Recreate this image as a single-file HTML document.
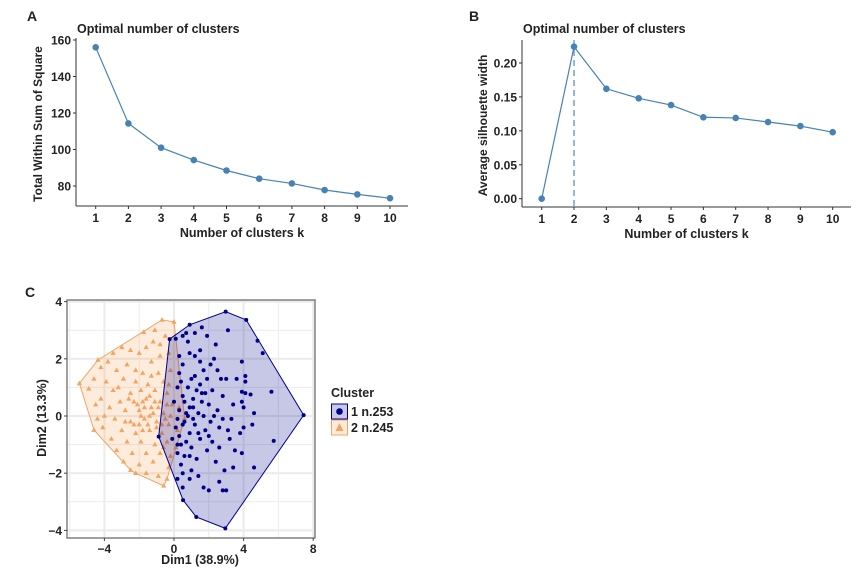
<!DOCTYPE html>
<html><head><meta charset="utf-8"><style>
body{margin:0;background:#fff}
svg text{font-family:"Liberation Sans",Arial,sans-serif;font-weight:bold;fill:#222}
</style></head><body>
<svg id="s" width="866" height="573" viewBox="0 0 866 573" xmlns="http://www.w3.org/2000/svg"></svg>
<script>
const ks=[1,2,3,4,5,6,7,8,9,10];
const wss=[156,114.3,101,94.2,88.5,84,81.4,77.8,75.4,73.3];
const wssTicks=[80,100,120,140,160];
const sil=[0,0.224,0.162,0.148,0.138,0.120,0.119,0.113,0.107,0.098];
const silTicks=[0,0.05,0.10,0.15,0.20];
const silTickLabels=["0.00","0.05","0.10","0.15","0.20"];
const optimalK=2;
const dimTicksX=[-4,0,4,8];
const dimTicksY=[-4,-2,0,2,4];
const cluster1=[[2.97,3.65],[4.15,3.36],[4.8,2.63],[5.1,2.2],[7.45,0.03],[5.73,-0.87],[2.95,-3.93],[1.28,-3.53],[0.52,-2.94],[-0.88,-0.72],[-0.25,2.69],[0.9,3.19],
[1.6,3.1],[3.1,3.0],[2.4,2.5],[0.7,2.9],[1.2,2.9],[0.1,2.7],[0.5,2.8],[0.8,2.6],[1.5,2.3],[1.2,2.1],[0.9,2.2],[0.3,2.1],[3.9,1.9],[1.5,1.9],[0.5,1.8],[2.1,1.8],[0.3,1.5],[1.2,1.4],[1.7,1.6],[2.5,1.6],[3.0,1.3],[4.1,1.2],[4.1,1.4],[2.7,1.3],[3.6,1.3],[1.9,1.3],[1.5,1.1],[1.0,1.3],[0.8,1.0],[0.2,1.0],[0.5,0.7],[1.3,0.9],[2.2,0.9],[1.8,0.8],[3.9,0.85],[4.1,0.8],[4.4,0.75],[5.6,0.85],[2.8,0.7],[1.1,0.6],[0.6,0.5],[0.9,0.3],[1.6,0.5],[2.0,0.4],[3.4,0.4],[3.9,0.5],[2.5,0.2],[4.0,0.3],[1.4,0.1],[0.3,0.2],[0.8,0.0],[1.7,0.0],[2.3,0.0],[2.8,-0.1],[3.3,-0.1],[4.6,0.1],[4.5,-0.3],[2.1,-0.2],[1.2,-0.3],[0.5,-0.3],[0.1,-0.4],[0.9,-0.6],[1.8,-0.5],[2.6,-0.4],[3.1,-0.5],[4.0,-0.4],[0.3,-0.7],[1.5,-0.8],[0.7,-0.9],[2.2,-0.9],[3.2,-0.8],[3.8,-0.6],[0.2,-1.0],[1.0,-1.1],[1.9,-1.2],[2.6,-1.1],[3.5,-1.2],[3.9,-1.3],[0.6,-1.4],[1.3,-1.5],[2.4,-1.6],[0.4,-1.7],[1.0,-1.9],[2.9,-1.9],[3.4,-1.8],[4.6,-1.8],[0.5,-2.0],[1.4,-2.1],[2.6,-2.3],[0.9,-2.2],[1.7,-2.5],[0.2,-2.2],[2.0,-2.6],[2.8,-2.6],[3.0,-2.6],[0.5,-2.5],[0.6,-0.2],[0.0,0.5],[0.2,-1.3],[-0.1,-0.8],[1.1,-0.1],[0.4,1.2],[2.3,2.0],[1.9,2.8],[0.7,0.1],[1.4,-0.6],[0.4,-1.0],[1.1,0.3],[0.2,-0.1],[2.0,-0.7],[1.6,0.8],[0.9,-1.4]];
const cluster2=[[-0.69,3.36],[0,3.29],[0.61,-0.08],[-0.59,-2.44],[-2.5,-1.89],[-4.6,-0.49],[-5.44,1.14],[-4.37,1.96],[-1.74,2.93],
[-1.2,2.6],[-0.5,2.8],[-1.1,3.0],[-3.0,2.4],[-3.5,2.2],[-2.5,2.3],[-3.8,1.9],[-4.2,1.7],[-2.0,2.2],[-0.8,2.1],[-1.3,1.9],[-0.3,2.2],[-2.7,1.8],[-3.3,1.6],[-1.8,1.5],[-0.9,1.5],[-0.2,1.6],[-4.6,1.3],[-3.9,1.2],[-2.9,1.3],[-2.2,1.2],[-1.5,1.1],[-0.6,1.2],[-4.9,0.95],[-3.5,0.9],[-2.5,0.8],[-1.9,0.9],[-1.1,0.9],[-0.4,0.8],[-4.2,0.6],[-3.1,0.5],[-2.3,0.5],[-1.6,0.6],[-0.8,0.5],[-0.1,0.4],[-3.7,0.3],[-2.8,0.2],[-2.0,0.2],[-1.3,0.3],[-0.6,0.1],[-4.4,-0.1],[-3.4,-0.1],[-2.5,-0.2],[-1.7,-0.1],[-1.0,-0.2],[-0.3,-0.3],[-4.1,-0.4],[-3.0,-0.5],[-2.2,-0.6],[-1.4,-0.5],[-0.7,-0.6],[-3.6,-0.8],[-2.7,-0.9],[-1.9,-0.9],[-1.1,-1.0],[-0.4,-0.9],[-3.3,-1.2],[-2.4,-1.3],[-1.6,-1.3],[-0.8,-1.3],[-2.9,-1.6],[-2.0,-1.7],[-1.2,-1.6],[-0.3,-1.8],[-1.6,-2.0],[-0.9,-2.1],[-0.4,-2.2],[-2.2,-2.0],[-1.9,0.0],[-1.5,-0.3],[-2.1,0.4],[-1.2,0.1],[-0.9,0.3],[-1.4,0.7],[-2.6,0.6],[-3.2,1.0],[-0.5,-0.1],[-0.2,0.0],[0.2,-0.5],[0.3,0.3],[-1.0,-0.4],[-1.7,0.3],[-2.3,-0.3],[-0.6,-1.1],[-1.3,1.4],[-4.0,0.0],[-4.5,0.4],[-2.8,-0.2],[-1.8,-0.5],[-0.3,1.1],[0.1,-1.1],[-0.2,-1.4],[-0.8,2.5],[-1.6,2.4],[-2.2,1.6],[-1.1,0.5],[-1.8,0.5],[-0.7,-0.3],[-1.4,0.0],[-2.0,-0.3],[-0.4,0.4]];

const NS="http://www.w3.org/2000/svg";
const svg=document.getElementById('s');
function el(tag,attrs,parent,txt){const e=document.createElementNS(NS,tag);for(const k in attrs)e.setAttribute(k,attrs[k]);if(txt!==undefined)e.textContent=txt;(parent||svg).appendChild(e);return e;}

function linePanel(o){
  const g=el('g',{});
  
  
  const sx=k=>o.x1+(k-1)*(o.x10-o.x1)/9;
  const sy=v=>o.yb+(v-o.v0)*(o.yt-o.yb)/(o.v1-o.v0);
  let t=el('text',{x:o.lx,y:21,'font-size':14},g,o.letter);
  
  t=el('text',{x:o.left+1,y:33,'font-size':12.5},g,'Optimal number of clusters');
  
  el('line',{x1:o.left,y1:o.top,x2:o.left,y2:o.bottom,stroke:'#333','stroke-width':1},g);
  el('line',{x1:o.left,y1:o.bottom,x2:o.right,y2:o.bottom,stroke:'#333','stroke-width':1},g);
  o.ticks.forEach((v,i)=>{const y=sy(v);
    el('line',{x1:o.left-3,y1:y,x2:o.left,y2:y,stroke:'#333'},g);
    const tt=el('text',{x:o.left-5,y:y+4.5,'font-size':12,'text-anchor':'end'},g,o.tickLabels[i]);
    });
  ks.forEach(k=>{const x=sx(k);
    el('line',{x1:x,y1:o.bottom,x2:x,y2:o.bottom+3,stroke:'#333'},g);
    const tt=el('text',{x:x,y:o.bottom+16,'font-size':12,'text-anchor':'middle'},g,String(k));
    });
  if(o.vline){const x=sx(o.vline);
    const l=el('line',{x1:x,y1:o.top,x2:x,y2:o.bottom,stroke:'#5b93c6','stroke-width':1.3,'stroke-dasharray':'6,4'},g);
    }
  const p=el('polyline',{points:ks.map((k,i)=>sx(k)+','+sy(o.vals[i])).join(' '),fill:'none',stroke:'#4682b4','stroke-width':1.2},g);
  
  ks.forEach((k,i)=>{const c=el('circle',{cx:sx(k),cy:sy(o.vals[i]),r:3.3,fill:'#4682b4'},g);
    });
  t=el('text',{x:(o.left+o.right)/2,y:o.bottom+31,'font-size':12.5,'text-anchor':'middle'},g,'Number of clusters k');
  
  t=el('text',{x:0,y:0,'font-size':12,'text-anchor':'middle',transform:`translate(${o.ytx},${(o.top+o.bottom)/2+2}) rotate(-90)`},g,o.ytitle);
  
}
linePanel({name:'panel-a-elbow',letter:'A',lx:27,left:76,right:408,top:38,bottom:206,x1:95.7,x10:390,yb:186,yt:40,v0:80,v1:160,
  ticks:wssTicks,tickLabels:wssTicks.map(String),vals:wss,ytitle:'Total Within Sum of Square',ytx:42});
linePanel({name:'panel-b-silhouette',letter:'B',lx:469,left:522,right:851,top:40,bottom:207,x1:541.7,x10:832.7,yb:198.7,yt:63,v0:0,v1:0.2,
  ticks:silTicks,tickLabels:silTickLabels,vals:sil,ytitle:'Average silhouette width',ytx:487,vline:optimalK});

(function(){
  const g=el('g',{});
  
  
  const L=67,R=315,T=300,B=538;
  const sx=v=>174+v*17.4, sy=v=>416-v*28.6;
  let t=el('text',{x:25,y:297,'font-size':14},g,'C');
  
  el('rect',{x:L,y:T,width:R-L,height:B-T,fill:'#fff'},g);
  for(let v=-6;v<=8;v+=2){const x=sx(v);if(x>L&&x<R)el('line',{x1:x,y1:T,x2:x,y2:B,stroke:'#ebebeb','stroke-width':v%4===0?2:1},g);}
  for(let v=-4;v<=4;v+=1){const y=sy(v);if(y>=T&&y<=B)el('line',{x1:L,y1:y,x2:R,y2:y,stroke:'#ebebeb','stroke-width':v%2===0?2:1},g);}
  function hull(pts){const p=pts.map(a=>a.slice()).sort((a,b)=>a[0]-b[0]||a[1]-b[1]);
    const cr=(o,a,b)=>(a[0]-o[0])*(b[1]-o[1])-(a[1]-o[1])*(b[0]-o[0]);
    const lo=[],up=[];for(const q of p){while(lo.length>=2&&cr(lo[lo.length-2],lo[lo.length-1],q)<=0)lo.pop();lo.push(q);}
    for(let i=p.length-1;i>=0;i--){const q=p[i];while(up.length>=2&&cr(up[up.length-2],up[up.length-1],q)<=0)up.pop();up.push(q);}
    up.pop();lo.pop();return lo.concat(up);}
  const h2=el('polygon',{points:hull(cluster2).map(p=>sx(p[0])+','+sy(p[1])).join(' '),fill:'rgba(244,164,96,0.22)',stroke:'#f4a460','stroke-width':1},g);
  
  cluster2.forEach(p=>{const x=sx(p[0]),y=sy(p[1]);
    const m=el('polygon',{points:`${x},${y-2.8} ${x-2.6},${y+1.8} ${x+2.6},${y+1.8}`,fill:'#f4a460'},g);
    });
  const h1=el('polygon',{points:hull(cluster1).map(p=>sx(p[0])+','+sy(p[1])).join(' '),fill:'rgba(0,0,139,0.22)',stroke:'#00008b','stroke-width':1},g);
  
  cluster1.forEach(p=>{const m=el('circle',{cx:sx(p[0]),cy:sy(p[1]),r:2,fill:'#00008b'},g);
    });
  el('rect',{x:L,y:T,width:R-L,height:B-T,fill:'none',stroke:'#777','stroke-width':1.4},g);
  dimTicksX.forEach(v=>{const x=sx(v);el('line',{x1:x,y1:B,x2:x,y2:B+3,stroke:'#444'},g);
    const tt=el('text',{x:x,y:B+15,'font-size':12,'text-anchor':'middle'},g,v<0?'\u2212'+(-v):String(v));
    });
  dimTicksY.forEach(v=>{const y=sy(v);el('line',{x1:L-3,y1:y,x2:L,y2:y,stroke:'#444'},g);
    const tt=el('text',{x:L-5,y:y+4.5,'font-size':12,'text-anchor':'end'},g,v<0?'\u2212'+(-v):String(v));
    });
  t=el('text',{x:200,y:564,'font-size':12.5,'text-anchor':'middle'},g,'Dim1 (38.9%)');
  
  t=el('text',{x:0,y:0,'font-size':12.5,'text-anchor':'middle',transform:'translate(46,418) rotate(-90)'},g,'Dim2 (13.3%)');
  
  const lg=el('g',{},g);
  
  el('text',{x:331,y:397,'font-size':12.5},lg,'Cluster');
  const e1=el('g',{},lg);
  
  el('rect',{x:331.5,y:404,width:16,height:15,fill:'rgba(0,0,139,0.22)',stroke:'#00008b'},e1);
  el('circle',{cx:339.5,cy:411.5,r:3.3,fill:'#00008b'},e1);
  el('text',{x:351,y:416,'font-size':12.5},e1,'1 n.253');
  const e2=el('g',{},lg);
  
  el('rect',{x:331.5,y:420,width:16,height:15,fill:'rgba(244,164,96,0.22)',stroke:'#f4a460'},e2);
  el('polygon',{points:'339.5,423 335.5,431 343.5,431',fill:'#f4a460'},e2);
  el('text',{x:351,y:432,'font-size':12.5},e2,'2 n.245');
})();
</script>
</body></html>
